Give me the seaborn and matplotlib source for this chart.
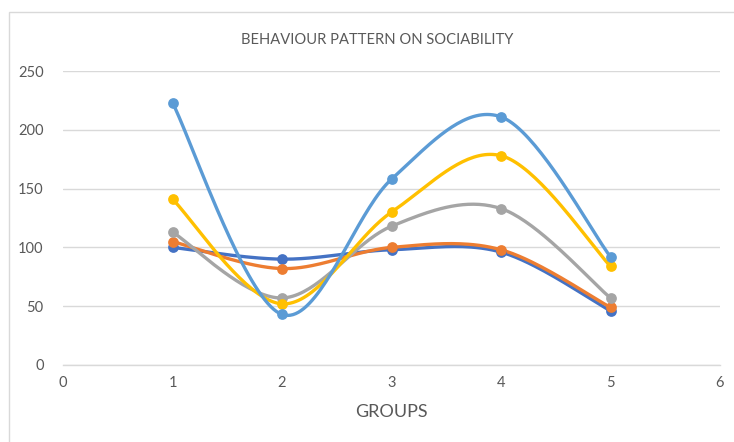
import numpy as np
import pandas as pd
import matplotlib
matplotlib.use("Agg")
import matplotlib.pyplot as plt
import seaborn as sns
from matplotlib.patches import Rectangle

groups = [1, 2, 3, 4, 5]
series_names = ["Series1", "Series2", "Series3", "Series4", "Series5"]
series1 = [100, 90, 98, 96, 46]
series2 = [105, 82, 100, 98, 49]
series3 = [113, 57, 118, 133, 57]
series4 = [141, 52, 130, 178, 84]
series5 = [223, 43, 158, 211, 92]
colors = ["#4472C4", "#ED7D31", "#A5A5A5", "#FFC000", "#5B9BD5"]
x_ticks = [0, 1, 2, 3, 4, 5, 6]
y_ticks = [0, 50, 100, 150, 200, 250]
title = "BEHAVIOUR PATTERN ON SOCIABILITY"
xlabel = "GROUPS"

sns.set_theme(style="white")
plt.rcParams['font.family'] = ['Lato', 'DejaVu Sans']


def smooth(xs, ys, n=40):
    """Excel-style smoothing: cubic Bezier with Catmull-Rom control points."""
    xs = np.asarray(xs, float)
    ys = np.asarray(ys, float)
    P = np.column_stack([xs, ys])
    out = []
    m = len(P)
    for i in range(m - 1):
        p0 = P[i - 1] if i > 0 else P[i]
        p1 = P[i]
        p2 = P[i + 1]
        p3 = P[i + 2] if i + 2 < m else P[i + 1]
        c1 = p1 + (p2 - p0) / 6.0
        c2 = p2 - (p3 - p1) / 6.0
        t = np.linspace(0, 1, n, endpoint=(i == m - 2))[:, None]
        b = ((1 - t) ** 3) * p1 + 3 * ((1 - t) ** 2) * t * c1 + 3 * (1 - t) * t ** 2 * c2 + t ** 3 * p2
        out.append(b)
    out = np.vstack(out)
    return out[:, 0], out[:, 1]


fig = plt.figure(figsize=(7.34, 4.42), dpi=100)
fig.patches.append(Rectangle((9 / 734, -0.01), 1.2, (442 - 12) / 442 + 0.01,
                             transform=fig.transFigure, fill=False,
                             edgecolor="#D9D9D9", linewidth=1.0))
ax = fig.add_axes([63 / 734, (442 - 365) / 442, (720 - 63) / 734, (365 - 71) / 442])

all_series = [series1, series2, series3, series4, series5]
for name, vals, col in zip(series_names, all_series, colors):
    sx, sy = smooth(groups, vals)
    df_line = pd.DataFrame({"x": sx, "y": sy})
    sns.lineplot(data=df_line, x="x", y="y", sort=False, ax=ax, color=col,
                 linewidth=2.4, estimator=None, solid_capstyle="round")
    df_pts = pd.DataFrame({"x": groups, "y": vals})
    sns.scatterplot(data=df_pts, x="x", y="y", ax=ax, color=col, s=60,
                    edgecolor=col, linewidth=0, zorder=5)

ax.set_xlim(0, 6)
ax.set_ylim(0, 250)
ax.set_xticks(x_ticks)
ax.set_yticks(y_ticks)
ax.yaxis.grid(True, color="#D9D9D9", linewidth=1.0)
ax.xaxis.grid(False)
for s in ["top", "right", "left"]:
    ax.spines[s].set_visible(False)
ax.spines["bottom"].set_color("#D9D9D9")
ax.spines["bottom"].set_linewidth(1.0)
ax.tick_params(axis="both", length=0, labelsize=10.5, labelcolor="#595959")
ax.tick_params(axis="y", pad=14)
ax.tick_params(axis="x", pad=8)
ax.set_xlabel(xlabel, fontsize=13, color="#595959", labelpad=10)
ax.set_ylabel("")
fig.text(377 / 734, 1 - 40 / 442, title, ha="center", va="center",
         fontsize=10.6, color="#595959")

fig.savefig("out.png", dpi=100)
